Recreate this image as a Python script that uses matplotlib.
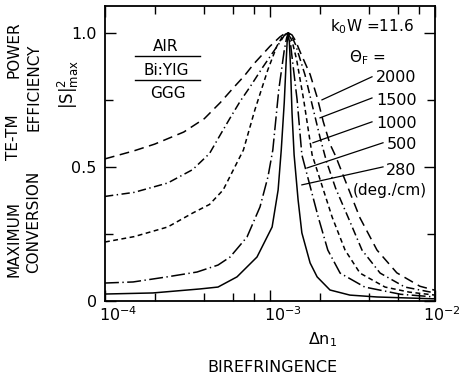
import matplotlib
matplotlib.use("Agg")
import matplotlib.pyplot as plt
import matplotlib.ticker as mticker
import matplotlib.transforms as mtrans

plt.rcParams['font.family'] = ['DejaVu Sans']
plt.rcParams['lines.scale_dashes'] = False
plt.rcParams['mathtext.default'] = 'regular'

# curves: birefringence dn1 and max conversion efficiency
dn_2000 = [1.0e-4, 1.5e-4, 2.0e-4, 3.0e-4, 4.0e-4, 5.0e-4, 6.0e-4, 7.0e-4, 8.0e-4,
           1.0e-3, 1.15e-3, 1.22e-3, 1.29e-3, 1.36e-3, 1.43e-3, 1.52e-3, 1.75e-3,
           1.93e-3, 2.1e-3, 2.31e-3, 2.5e-3, 2.77e-3, 3.51e-3, 4.45e-3, 5.87e-3,
           8.1e-3, 1.0e-2]
eff_2000 = [0.53, 0.56, 0.585, 0.63, 0.68, 0.74, 0.795, 0.84, 0.885,
            0.95, 0.985, 0.996, 1.0, 0.992, 0.97, 0.93, 0.845,
            0.76, 0.67, 0.585, 0.54, 0.47, 0.31, 0.19, 0.105,
            0.055, 0.04]

dn_1500 = [1.0e-4, 1.5e-4, 2.4e-4, 3.4e-4, 4.3e-4, 5.0e-4, 5.7e-4, 6.6e-4, 7.6e-4,
           9.0e-4, 1.05e-3, 1.15e-3, 1.22e-3, 1.29e-3, 1.36e-3, 1.43e-3, 1.63e-3,
           1.82e-3, 2.01e-3, 2.2e-3, 2.5e-3, 2.97e-3, 3.61e-3, 4.65e-3, 6.57e-3,
           1.0e-2]
eff_1500 = [0.39, 0.405, 0.44, 0.49, 0.55, 0.62, 0.68, 0.745, 0.8,
            0.87, 0.93, 0.965, 0.99, 1.0, 0.985, 0.955, 0.843,
            0.72, 0.61, 0.52, 0.42, 0.313, 0.19, 0.104, 0.052,
            0.03]

dn_1000 = [1.0e-4, 1.5e-4, 2.4e-4, 3.4e-4, 4.3e-4, 5.2e-4, 6.9e-4, 8.1e-4, 9.7e-4,
           1.1e-3, 1.2e-3, 1.29e-3, 1.36e-3, 1.45e-3, 1.6e-3, 1.8e-3, 2.38e-3,
           2.85e-3, 3.51e-3, 4.98e-3, 7.0e-3, 1.0e-2]
eff_1000 = [0.22, 0.24, 0.276, 0.328, 0.36, 0.414, 0.563, 0.713, 0.862,
            0.95, 0.99, 1.0, 0.97, 0.9, 0.75, 0.545, 0.313,
            0.19, 0.104, 0.052, 0.033, 0.022]

dn_500 = [1.0e-4, 1.48e-4, 2.38e-4, 3.61e-4, 4.84e-4, 5.73e-4, 7.26e-4, 8.7e-4,
          9.72e-4, 1.04e-3, 1.13e-3, 1.22e-3, 1.26e-3, 1.29e-3, 1.32e-3, 1.36e-3,
          1.46e-3, 1.56e-3, 1.96e-3, 2.24e-3, 2.66e-3, 3.75e-3, 6.2e-3, 1.0e-2]
eff_500 = [0.067, 0.071, 0.09, 0.108, 0.134, 0.164, 0.239, 0.351,
           0.463, 0.563, 0.787, 0.935, 0.98, 1.0, 0.98, 0.91,
           0.75, 0.545, 0.313, 0.19, 0.104, 0.052, 0.025, 0.015]

dn_280 = [1.0e-4, 1.95e-4, 3.77e-4, 4.84e-4, 6.31e-4, 8.34e-4, 1.03e-3, 1.12e-3,
          1.17e-3, 1.22e-3, 1.25e-3, 1.27e-3, 1.29e-3, 1.31e-3, 1.33e-3, 1.36e-3,
          1.4e-3, 1.48e-3, 1.56e-3, 1.75e-3, 1.93e-3, 2.31e-3, 3.05e-3, 4.45e-3,
          7.05e-3, 1.0e-2]
eff_280 = [0.026, 0.03, 0.045, 0.052, 0.09, 0.164, 0.276, 0.414,
           0.563, 0.74, 0.88, 0.965, 1.0, 0.965, 0.88, 0.7,
           0.545, 0.377, 0.254, 0.142, 0.09, 0.041, 0.022, 0.015,
           0.011, 0.008]

theta_labels = ['2000', '1500', '1000', '500', '280']

fig = plt.figure(figsize=(4.6, 3.78), dpi=100)
ax = fig.add_axes([105/460, 1-301/378, 330/460, 295/378])

lw = 1.1
ax.plot(dn_2000, eff_2000, color='black', lw=lw, linestyle=(0, (7, 4)))
ax.plot(dn_1500, eff_1500, color='black', lw=lw, linestyle=(0, (6, 2.5, 1, 2.5)))
ax.plot(dn_1000, eff_1000, color='black', lw=lw, linestyle=(0, (3.5, 2.5)))
ax.plot(dn_500, eff_500, color='black', lw=lw, linestyle=(0, (10, 2.5, 1, 2.5)))
ax.plot(dn_280, eff_280, color='black', lw=lw, linestyle='-')

ax.set_xscale('log')
ax.set_xlim(1e-4, 1e-2)
ax.set_ylim(0, 1.1)

ax.xaxis.set_major_locator(mticker.FixedLocator([1e-4, 1e-3, 1e-2]))
ax.xaxis.set_major_formatter(mticker.FixedFormatter([r'$10^{-4}$', r'$10^{-3}$', r'$10^{-2}$']))
ax.xaxis.set_minor_locator(mticker.LogLocator(base=10, subs=(2, 4, 6, 8)))
ax.xaxis.set_minor_formatter(mticker.NullFormatter())
ax.set_yticks([0, 0.5, 1.0])
ax.set_yticklabels(['0', '0.5', '1.0'])
ax.set_yticks([0.25, 0.75], minor=True)

ax.tick_params(which='both', direction='in', top=True, right=True, width=1.0,
               labelsize=11.5)
ax.tick_params(which='major', length=8)
ax.tick_params(which='minor', length=6)
ax.tick_params(axis='x', pad=3)
ax.tick_params(axis='y', pad=6)
for s in ax.spines.values():
    s.set_linewidth(1.3)

# shift x tick labels so the "10" starts near the tick
xlabs = ax.get_xticklabels()
for i, lab in enumerate(xlabs):
    shift = -12 if i == len(xlabs) - 1 else -6
    offs = mtrans.ScaledTranslation(shift/100, 0, fig.dpi_scale_trans)
    lab.set_horizontalalignment('left')
    lab.set_transform(lab.get_transform() + offs)

# layer box
ax.text(0.185, 0.864, 'AIR', transform=ax.transAxes, ha='center', va='center', fontsize=11)
ax.plot([0.091, 0.288], [0.832, 0.832], transform=ax.transAxes, color='black', lw=1)
ax.text(0.185, 0.783, 'Bi:YIG', transform=ax.transAxes, ha='center', va='center', fontsize=11)
ax.plot([0.091, 0.288], [0.749, 0.749], transform=ax.transAxes, color='black', lw=1)
ax.text(0.19, 0.702, 'GGG', transform=ax.transAxes, ha='center', va='center', fontsize=11)

# parameter labels
ax.text(0.809, 0.929, r'k$_0$W =11.6', transform=ax.transAxes, ha='center', va='center', fontsize=11)
ax.text(0.794, 0.824, r'$\Theta_F$ =', transform=ax.transAxes, ha='center', va='center', fontsize=11)
label_y = [0.756, 0.681, 0.603, 0.529, 0.444]
for t, yy in zip(theta_labels, label_y):
    ax.text(0.945, yy, t, transform=ax.transAxes, ha='right', va='center', fontsize=11.5)
ax.text(0.975, 0.376, '(deg./cm)', transform=ax.transAxes, ha='right', va='center', fontsize=11)

# leader lines from labels to curves
leader_from = [(4.15e-3, 0.836), (4.15e-3, 0.757), (4.15e-3, 0.668), (4.84e-3, 0.59), (4.84e-3, 0.5)]
leader_to = [(2.065e-3, 0.75), (2.01e-3, 0.683), (1.82e-3, 0.59), (1.675e-3, 0.496), (1.56e-3, 0.433)]
for p0, p1 in zip(leader_from, leader_to):
    ax.plot([p0[0], p1[0]], [p0[1], p1[1]], color='black', lw=0.9)

# axis labels
fig.text(14/460, 1-239/378, 'MAXIMUM', rotation=90, ha='center', va='center', fontsize=11)
fig.text(14/460, 1-137/378, 'TE-TM', rotation=90, ha='center', va='center', fontsize=11)
fig.text(14/460, 1-50/378, 'POWER', rotation=90, ha='center', va='center', fontsize=11)
fig.text(34/460, 1-222/378, 'CONVERSION', rotation=90, ha='center', va='center', fontsize=11)
fig.text(34/460, 1-87/378, 'EFFICIENCY', rotation=90, ha='center', va='center', fontsize=11)
fig.text(68/460, 1-85/378, r'$|S|^2_{max}$', rotation=90, ha='center', va='center', fontsize=12)
fig.text(323/460, 1-340/378, r'$\Delta n_1$', ha='center', va='center', fontsize=11.5)
fig.text(272/460, 1-367/378, 'BIREFRINGENCE', ha='center', va='center', fontsize=11.5)

fig.savefig('out.png', dpi=100)
